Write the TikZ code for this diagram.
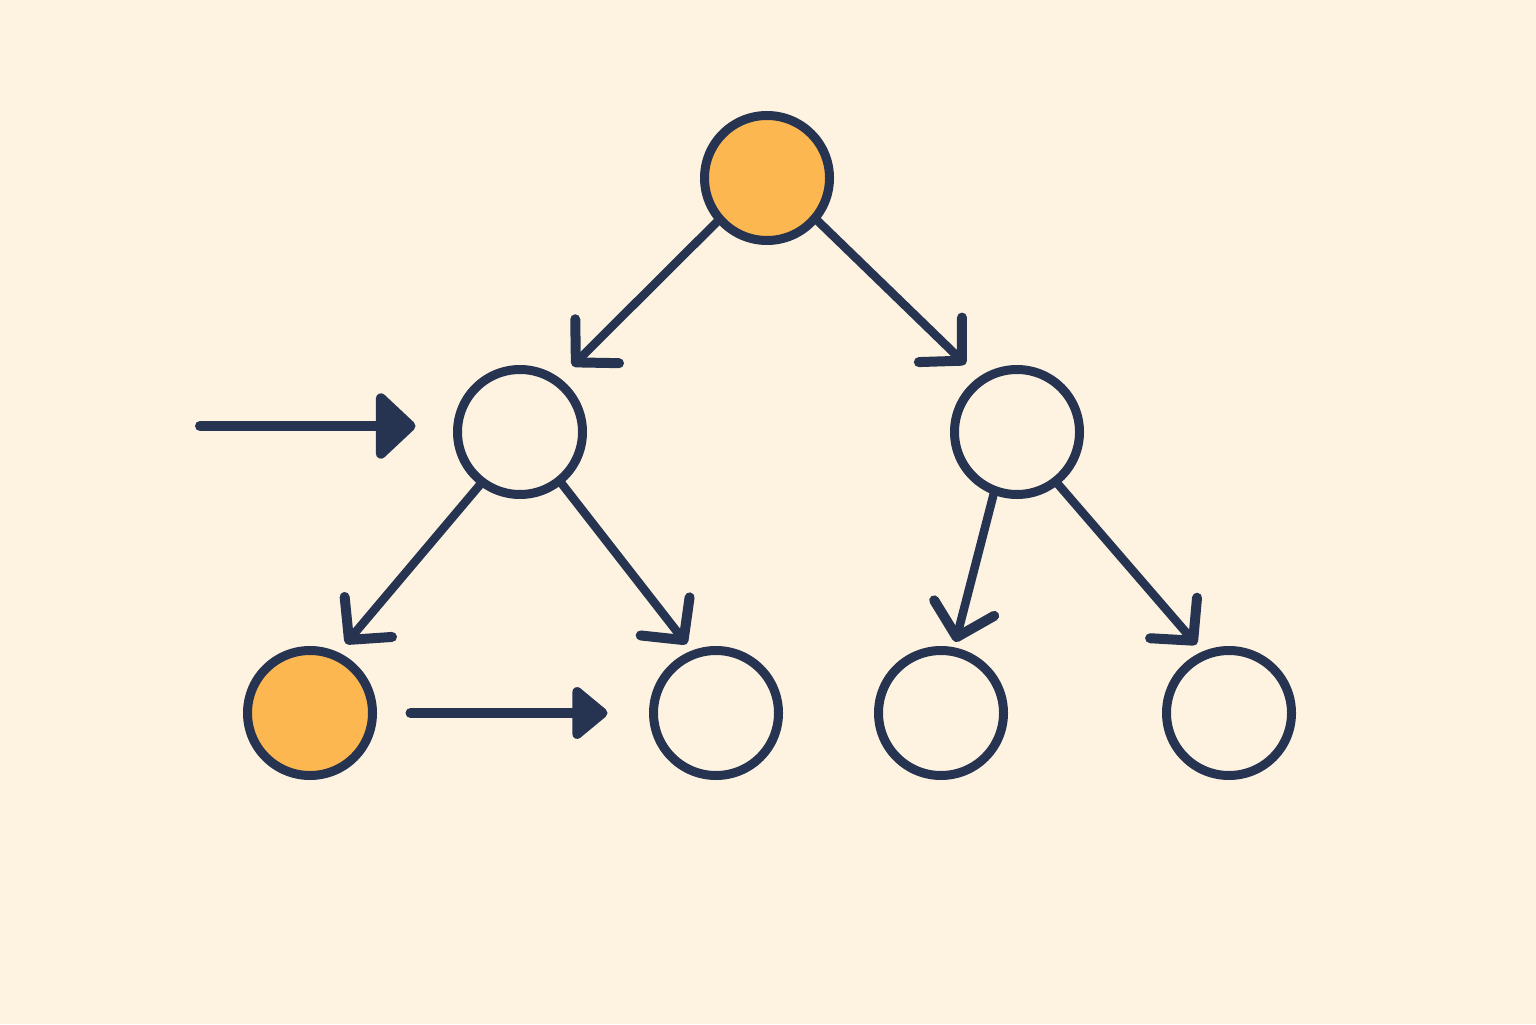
\documentclass[tikz,border=0pt]{standalone}
\usetikzlibrary{arrows.meta,positioning}

\definecolor{cream}{HTML}{FDF3E0}
\definecolor{navy}{HTML}{263452}
\definecolor{amber}{HTML}{FDB750}

\begin{document}
\begin{tikzpicture}[
        vertex/.style={circle, draw=navy, line width=0.09cm, minimum size=1.25cm, inner sep=0pt, outer sep=0pt, fill=cream},
        visited/.style={vertex, fill=amber},
        edge/.style={draw=navy, line width=0.085cm, line cap=round,
            -{Straight Barb[length=0.3cm, width=0.62cm, line width=0.1cm, round]}},
        pointer/.style={draw=navy, line width=0.1cm, line cap=round,
            -{Triangle[length=0.42cm, width=0.76cm, round]}}]
        \fill[cream] (0,0) rectangle (15.36,10.24);
        \useasboundingbox (0,0) rectangle (15.36,10.24);
        % tree
        \node[visited] at (7.67,8.46) (root) {};
        \node[vertex] at (5.20,5.92) (left) {};
        \node[vertex] at (10.17,5.92) (right) {};
        \node[visited] at (3.10,3.11) (leftleft) {};
        \node[vertex] at (7.16,3.11) (leftright) {};
        \node[vertex] at (9.41,3.11) (rightleft) {};
        \node[vertex] at (12.29,3.11) (rightright) {};
        \draw[edge, shorten >=0.22cm] (root.221) -- (left.54);
        \draw[edge, shorten >=0.23cm] (root.320) -- (right.124);
        \draw[edge, shorten >=0.16cm] (left.233) -- (leftleft.66);
        \draw[edge, shorten >=0.13cm] (left.309) -- (leftright.110);
        \draw[edge, shorten >=0.10cm] (right.249) -- (rightleft.79);
        \draw[edge, shorten >=0.14cm] (right.308) -- (rightright.112);
        % pointers
        \coordinate (start) at (2.00,5.98);
        \draw[pointer, shorten >=0.42cm] (start) -- (start -| left.west);
        \draw[pointer, shorten <=0.38cm, shorten >=0.46cm,
            -{Triangle[length=0.38cm, width=0.6cm, round]}] (leftleft) -- (leftright);
\end{tikzpicture}
\end{document}
